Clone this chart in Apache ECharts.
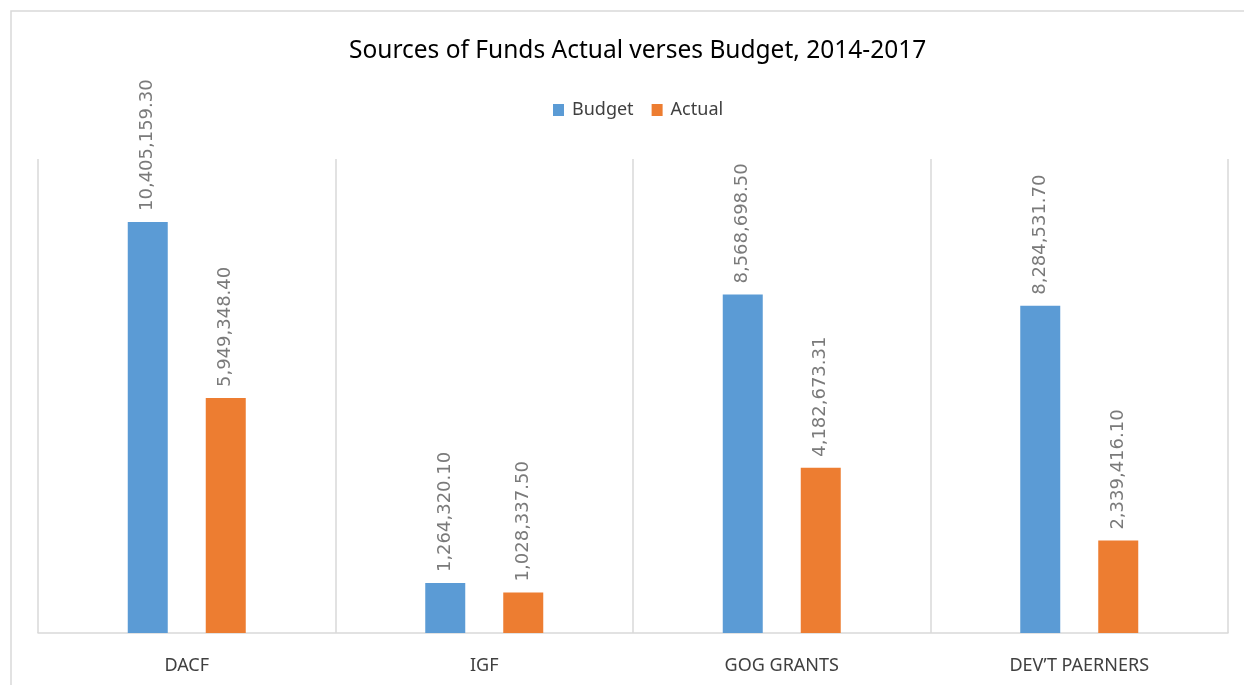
<!DOCTYPE html>
<html>
<head>
<meta charset="utf-8">
<style>
  html, body { margin: 0; padding: 0; background: #fff; }
  #chart { width: 1244px; height: 685px; }
</style>
<script src="https://cdn.jsdelivr.net/npm/echarts@6/dist/echarts.min.js"></script>
</head>
<body>
<div id="chart"></div>
<script>
const categories = ['DACF', 'IGF', 'GOG GRANTS', 'DEV\u2019T PAERNERS'];
const budget = [10405159.30, 1264320.10, 8568698.50, 8284531.70];
const actual = [5949348.40, 1028337.50, 4182673.31, 2339416.10];

const fmt = v => v.toLocaleString('en-US', { minimumFractionDigits: 2, maximumFractionDigits: 2 });

const labelStyle = {
  show: true,
  position: 'top',
  rotate: 90,
  align: 'left',
  verticalAlign: 'middle',
  distance: 11,
  color: '#7a7a7a',
  fontFamily: 'DejaVu Sans',
  fontSize: 18,
  formatter: p => fmt(p.value)
};

const chart = echarts.init(document.getElementById('chart'), null, { renderer: 'canvas' });
chart.setOption({
  animation: false,
  backgroundColor: '#fff',
  graphic: [{
    type: 'rect',
    shape: { x: 11, y: 11, width: 1300, height: 800 },
    style: { fill: 'none', stroke: '#d9d9d9', lineWidth: 1.5 },
    silent: true
  }],
  title: {
    text: 'Sources of Funds Actual verses Budget, 2014-2017',
    left: 344,
    top: 34,
    textStyle: { fontFamily: 'Noto Sans', fontWeight: 'normal', fontSize: 24.5, color: '#000' }
  },
  legend: {
    top: 96,
    left: 548,
    itemWidth: 11,
    itemHeight: 12,
    itemGap: 18,
    icon: 'rect',
    textStyle: { fontFamily: 'Noto Sans', fontSize: 18, color: '#404040', padding: [0, 0, 0, 3] }
  },
  grid: { left: 38, right: 16, top: 159, bottom: 52 },
  xAxis: {
    type: 'category',
    data: categories,
    boundaryGap: true,
    axisLine: { lineStyle: { color: '#d9d9d9', width: 1.5 } },
    axisTick: { show: false },
    splitLine: { show: true, lineStyle: { color: '#d9d9d9', width: 1.5 } },
    axisLabel: { margin: 24, color: '#404040', fontFamily: 'Noto Sans', fontSize: 18 }
  },
  yAxis: {
    type: 'value',
    min: 0,
    max: 12000000,
    show: false,
    splitLine: { show: false }
  },
  series: [
    {
      name: 'Budget',
      type: 'bar',
      data: budget,
      barWidth: 40,
      barGap: '95%',
      itemStyle: { color: '#5b9bd5' },
      label: labelStyle
    },
    {
      name: 'Actual',
      type: 'bar',
      data: actual,
      barWidth: 40,
      itemStyle: { color: '#ed7d31' },
      label: labelStyle
    }
  ]
});
</script>
</body>
</html>
